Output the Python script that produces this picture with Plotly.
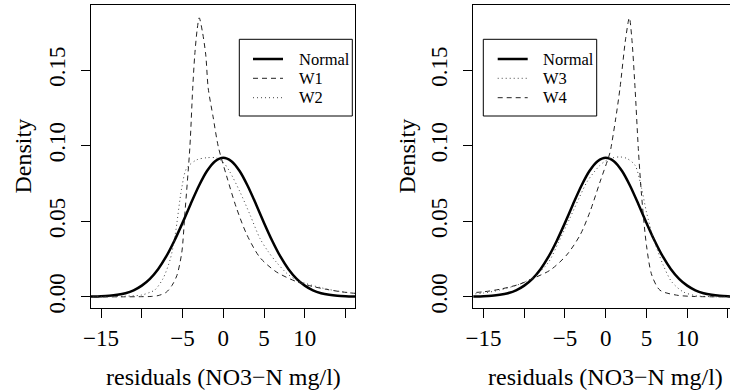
import plotly.graph_objects as go

# ---- density curves (x in mg/l, y = density) ----
normal_x = [-17, -16, -15, -14, -13, -12, -11, -10, -9, -8, -7, -6, -5, -4, -3, -2, -1, 0,
            1, 2, 3, 4, 5, 6, 7, 8, 9, 10, 11, 12, 13, 14, 15, 16, 17]
normal_y = [0.00006, 0.00015, 0.00032, 0.00065, 0.0013, 0.0024, 0.0043, 0.0074, 0.0119,
            0.0183, 0.0267, 0.0371, 0.0489, 0.0614, 0.0733, 0.0832, 0.0897, 0.0920,
            0.0897, 0.0832, 0.0733, 0.0614, 0.0489, 0.0371, 0.0267, 0.0183, 0.0119,
            0.0074, 0.0043, 0.0024, 0.0013, 0.00065, 0.00032, 0.00015, 0.00006]

w1_x = [-17, -12, -10, -9, -8, -7, -6.3, -5.7, -5.1, -4.7, -4.1, -3.75, -3.5, -3.2, -2.95,
        -2.55, -2.15, -1.85, -1.25, -0.6, 0.4, 1.6, 2.9, 4.5, 6.5, 9.0, 11.0, 12.7, 14.5, 17]
w1_y = [0.0, 0.0, 0.0001, 0.0002, 0.0008, 0.0030, 0.0075, 0.0140, 0.0290, 0.0560, 0.0990,
        0.1380, 0.1600, 0.1770, 0.1845, 0.1750, 0.1600, 0.1380, 0.1190, 0.0990, 0.0800,
        0.0590, 0.0410, 0.0260, 0.0165, 0.0100, 0.0068, 0.0049, 0.0033, 0.0018]

w2_x = [-17, -14, -12, -10, -9, -8.4, -7.4, -6.5, -5.9, -5.1, -4.5, -3.3, -2.0, -0.8, 0.0,
        0.8, 2.05, 3.3, 4.5, 5.5, 6.5, 7.8, 9.0, 10.2, 12.0, 13.5, 15.0, 17]
w2_y = [0.0, 0.0001, 0.0004, 0.0012, 0.0030, 0.0045, 0.0120, 0.0250, 0.0410, 0.0720,
        0.0850, 0.0905, 0.0920, 0.0918, 0.0890, 0.0827, 0.0694, 0.0540, 0.0386, 0.0300,
        0.0230, 0.0155, 0.0110, 0.0087, 0.0060, 0.0043, 0.0030, 0.0017]

w3_x = [-17, -15, -13, -11, -9.5, -8.5, -7, -5.8, -4.4, -3.3, -2.3, -1.5, -0.7, 0.0, 0.9,
        1.8, 2.6, 3.6, 4.4, 5.0, 5.85, 7.05, 8.1, 9.5, 11, 13, 17]
w3_y = [0.0016, 0.0025, 0.0045, 0.0075, 0.0110, 0.0144, 0.0230, 0.0360, 0.0520, 0.0650,
        0.0760, 0.0820, 0.0870, 0.0900, 0.0920, 0.0925, 0.0915, 0.0870, 0.0717, 0.0560,
        0.0386, 0.0210, 0.0099, 0.0033, 0.0008, 0.0001, 0.0]

w4_x = [-17, -15, -13, -10.6, -8.9, -6.8, -4.8, -3.15, -1.95, -0.7, 0.3, 0.55, 1.2, 1.75,
        2.45, 2.9, 3.2, 3.6, 4.0, 4.4, 5.0, 5.65, 6.65, 8.7, 11, 17]
w4_y = [0.0026, 0.0033, 0.0050, 0.0083, 0.0122, 0.0177, 0.0276, 0.0408, 0.0560, 0.0760,
        0.0915, 0.0960, 0.1170, 0.1380, 0.1710, 0.1845, 0.1710, 0.1380, 0.0980, 0.0670,
        0.0340, 0.0144, 0.0044, 0.0011, 0.0002, 0.0]

x_ticks = [-15, -10, -5, 0, 5, 10, 15]
x_ticktext = ["\u221215", "", "\u22125", "0", "5", "10", ""]
y_ticks = [0.0, 0.05, 0.10, 0.15]
y_ticktext = ["0.00", "0.05", "0.10", "0.15"]

FONT = "Liberation Serif, Tinos, Times New Roman, Times, serif"
W, H = 730, 390

SOLID = dict(color="black", width=2.5)
DASHED = dict(color="#222", width=1, dash="5px,4px")
DOTTED = dict(color="#444", width=1, dash="1px,3px")

fig = go.Figure()

def add_curve(x, y, line, xa, ya, name):
    fig.add_trace(go.Scatter(x=x, y=y, mode="lines", name=name, line=dict(shape="spline",
                             smoothing=0.8, **line), xaxis=xa, yaxis=ya, showlegend=False,
                             hoverinfo="skip"))

# left panel: Normal, W1, W2
add_curve(normal_x, normal_y, SOLID, "x", "y", "Normal")
add_curve(w1_x, w1_y, DASHED, "x", "y", "W1")
add_curve(w2_x, w2_y, DOTTED, "x", "y", "W2")
# right panel: Normal, W3, W4
add_curve(normal_x, normal_y, SOLID, "x2", "y2", "Normal")
add_curve(w3_x, w3_y, DOTTED, "x2", "y2", "W3")
add_curve(w4_x, w4_y, DASHED, "x2", "y2", "W4")

tickfont = dict(family=FONT, size=23, color="black")
xcommon = dict(tickvals=x_ticks, ticktext=x_ticktext, ticks="outside", ticklen=9,
               tickcolor="black", showline=True, linecolor="black", linewidth=1,
               mirror=True, showgrid=False, zeroline=False, tickfont=tickfont,
               automargin=False)
ycommon = dict(tickvals=y_ticks, ticktext=y_ticktext, ticks="outside", ticklen=9,
               tickcolor="black", showline=True, linecolor="black", linewidth=1,
               showgrid=False, zeroline=False, tickfont=tickfont, tickangle=-90,
               ticklabelstandoff=7, automargin=False,
               range=[-0.0074, 0.193], domain=[1 - 308 / H, 1 - 5 / H])

fig.update_layout(
    width=W, height=H, margin=dict(l=0, r=0, t=0, b=0),
    paper_bgcolor="white", plot_bgcolor="white",
    xaxis=dict(domain=[91 / W, 355 / W], range=[-16.23, 16.16], anchor="y", **xcommon),
    yaxis=dict(anchor="x", mirror=True, **ycommon),
    xaxis2=dict(domain=[473.3 / W, 1.0], range=[-16.25, 15.25], anchor="y2", **xcommon),
    yaxis2=dict(anchor="x2", mirror=False, **ycommon),
)

shapes, annots = [], []

def legend(box, x_line, x_text, entries):
    x0, y0, x1, y1 = box
    shapes.append(dict(type="rect", xref="paper", yref="paper",
                       x0=x0 / W, x1=x1 / W, y0=1 - y0 / H, y1=1 - y1 / H,
                       line=dict(color="black", width=1), fillcolor="white", layer="above"))
    for (label, line), ly in zip(entries, [59, 78.3, 97.7]):
        shapes.append(dict(type="line", xref="paper", yref="paper",
                           x0=x_line[0] / W, x1=x_line[1] / W, y0=1 - ly / H, y1=1 - ly / H,
                           line=line, layer="above"))
        annots.append(dict(text=label, xref="paper", yref="paper", x=x_text / W,
                           y=1 - ly / H, xanchor="left", yanchor="middle", showarrow=False,
                           font=dict(family=FONT, size=16.5, color="black")))

legend((239.3, 39.3, 352.3, 116), (253, 283), 296.7,
       [("Normal", SOLID), ("W1", DASHED), ("W2", DOTTED)])
legend((483.3, 39.3, 596.7, 116), (497.7, 527.7), 541,
       [("Normal", SOLID), ("W3", DOTTED), ("W4", DASHED)])

# axis titles
title_font = dict(family=FONT, size=24, color="black")
for cx in (223.3, 605.5):
    annots.append(dict(text="residuals (NO3\u2212N mg/l)", xref="paper", yref="paper",
                       x=cx / W, y=1 - 377 / H, xanchor="center", yanchor="middle",
                       showarrow=False, font=title_font))
for cx in (22, 406):
    annots.append(dict(text="Density", xref="paper", yref="paper", x=cx / W,
                       y=1 - 156.5 / H, xanchor="center", yanchor="middle", textangle=-90,
                       showarrow=False, font=title_font))

fig.update_layout(shapes=shapes, annotations=annots)
fig.write_html("out.html")
